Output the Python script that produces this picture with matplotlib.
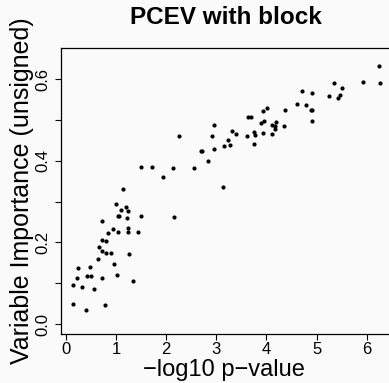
import matplotlib
matplotlib.use("Agg")
import matplotlib.pyplot as plt

# data: -log10 p-value vs unsigned variable importance
neglog10_p = [
    1.137, 0.998, 1.191, 1.091, 1.237, 1.037, 1.063, 1.211, 0.712, 1.496,
    1.243, 0.938, 1.237, 1.037, 0.838, 1.443, 0.718, 0.804, 0.664, 0.712,
    0.798, 0.892, 1.257, 0.644, 0.952, 0.233, 0.479, 1.012, 0.213, 0.419,
    0.493, 0.712, 1.337, 0.140, 0.313, 0.553, 0.140, 0.772, 0.405,
    1.935, 2.161, 2.261, 2.907, 2.684, 2.713, 2.947, 2.837, 1.502, 1.716,
    2.135, 2.554, 2.947, 3.146, 3.132,
    4.609, 4.004, 3.925, 4.370, 3.625, 3.691, 3.885, 3.950, 4.196, 4.104,
    4.176, 4.344, 4.176, 3.312, 3.751, 3.937, 4.100, 3.392, 3.605, 3.765,
    3.232, 3.272, 3.741,
    6.239, 5.926, 6.255, 5.347, 5.513, 4.709, 4.908, 5.241, 5.461, 5.427,
    4.788, 4.894, 4.914, 4.902,
]
importance = [
    0.331, 0.294, 0.287, 0.280, 0.277, 0.264, 0.264, 0.261, 0.252, 0.264,
    0.235, 0.233, 0.226, 0.225, 0.223, 0.225, 0.206, 0.204, 0.190, 0.180,
    0.175, 0.175, 0.172, 0.160, 0.148, 0.137, 0.141, 0.121, 0.114, 0.117,
    0.118, 0.113, 0.105, 0.095, 0.091, 0.086, 0.050, 0.047, 0.034,
    0.361, 0.262, 0.460, 0.461, 0.424, 0.424, 0.429, 0.399, 0.386, 0.385,
    0.383, 0.383, 0.487, 0.437, 0.336,
    0.540, 0.529, 0.522, 0.525, 0.508, 0.508, 0.494, 0.497, 0.495, 0.487,
    0.486, 0.486, 0.478, 0.473, 0.472, 0.469, 0.467, 0.466, 0.462, 0.463,
    0.451, 0.440, 0.442,
    0.633, 0.593, 0.592, 0.592, 0.579, 0.572, 0.567, 0.559, 0.562, 0.555,
    0.538, 0.525, 0.525, 0.498,
]
x_ticks = [0, 1, 2, 3, 4, 5, 6]
y_ticks = [0.0, 0.1, 0.2, 0.3, 0.4, 0.5, 0.6]
y_ticklabels = ["0.0", "", "0.2", "", "0.4", "", "0.6"]

title = "PCEV with block"
xlabel = "\u2212log10 p\u2212value"
ylabel = "Variable Importance (unsigned)"

plt.rcParams['font.family'] = ['Liberation Sans', 'DejaVu Sans']

W, H = 389, 383
fig = plt.figure(figsize=(W / 100, H / 100), dpi=100)
bg = '#fafafa'
fig.patch.set_facecolor(bg)

left_px, right_px, top_px, bottom_px = 61, 397, 48, 334
ax = fig.add_axes([left_px / W, 1 - bottom_px / H,
                   (right_px - left_px) / W, (bottom_px - top_px) / H])
ax.set_facecolor(bg)

ax.plot(neglog10_p, importance, 'o', color='black', ms=3.0, mew=0,
        clip_on=False)

ax.set_xlim(-0.1, 6.604)
ax.set_ylim(-0.0245, 0.677)

ax.set_xticks(x_ticks)
ax.set_xticklabels([str(t) for t in x_ticks])
ax.set_yticks(y_ticks)
ax.set_yticklabels(y_ticklabels, rotation=90, va='center')

ax.tick_params(axis='both', direction='out', length=4.5, width=0.8,
               labelsize=12, colors='black')
ax.tick_params(axis='x', pad=1.0)
ax.tick_params(axis='y', pad=3.0)

for s in ['left', 'bottom', 'top']:
    ax.spines[s].set_linewidth(0.9)
    ax.spines[s].set_color('black')
ax.spines['right'].set_visible(False)

fig.text(226 / W, 1 - 18 / H, title, ha='center', va='center',
         fontsize=17.5, fontweight='bold')
fig.text(224 / W, 1 - 370 / H, xlabel, ha='center', va='center', fontsize=17)
fig.text(22 / W, 1 - 191 / H, ylabel, ha='center', va='center',
         rotation=90, fontsize=18)

fig.savefig('out.png', dpi=100, facecolor=bg)
